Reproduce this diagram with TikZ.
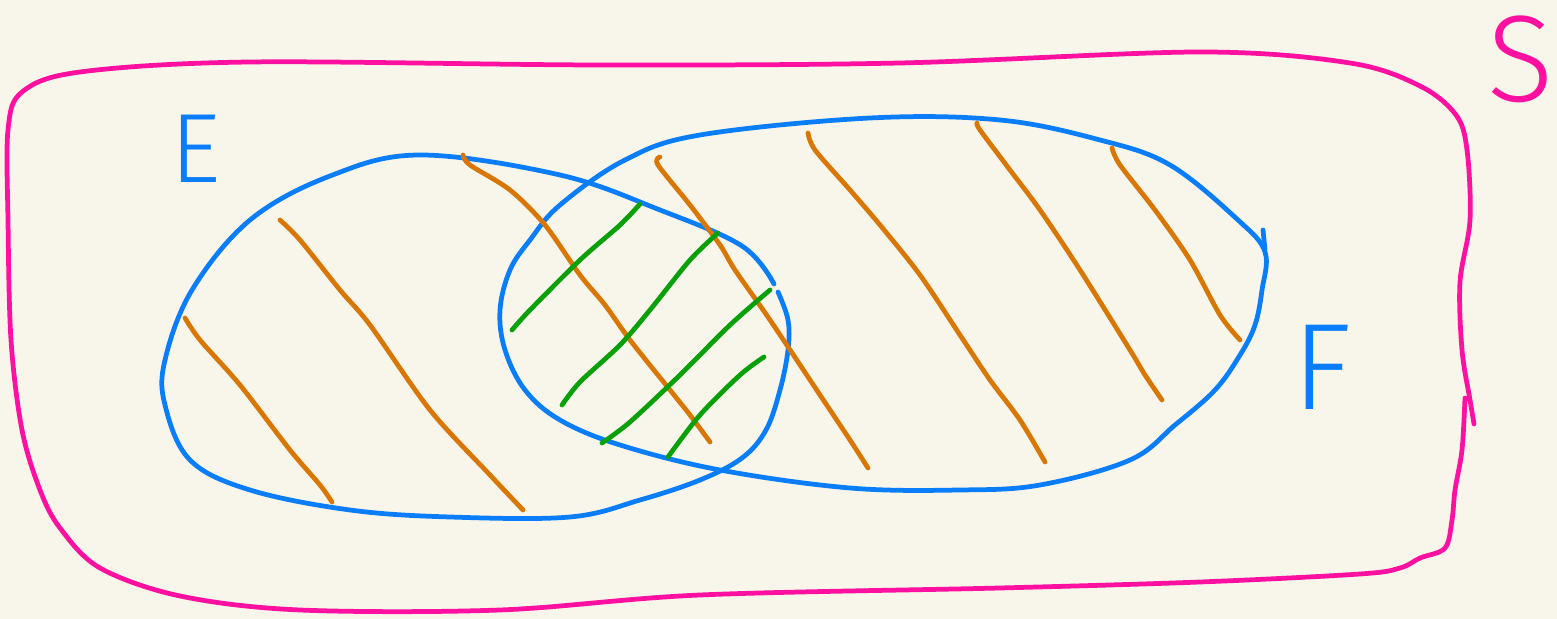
\documentclass[tikz,border=0pt]{standalone}
\usepackage{fontspec}
\newfontfamily\handfont{Fira Sans Light}
\definecolor{bg}{HTML}{F8F6EA}
\definecolor{pinkS}{HTML}{FF10A0}
\definecolor{blueE}{HTML}{0A7DFA}
\definecolor{orangeH}{HTML}{D97706}
\definecolor{greenH}{HTML}{0AA00A}
\tikzset{
  stroke/.style={line width=1.35pt, line cap=round, line join=round},
  setS/.style={stroke, draw=pinkS},
  setB/.style={stroke, draw=blueE},
  hatchO/.style={stroke, draw=orangeH},
  hatchG/.style={stroke, draw=greenH},
  letter/.style={inner sep=0pt, anchor=base, font=\handfont}
}
\begin{document}
\begin{tikzpicture}[x=0.01cm, y=-0.01cm]
\useasboundingbox (0,0) rectangle (1557,619);
\fill[bg] (0,0) rectangle (1557,619);
% outer set S
\draw[setS] plot[smooth, tension=0.55] coordinates {
 (1465,398) (1462,450) (1455,490) (1452,520) (1445,548) (1420,558) (1400,568) (1360,574)
 (1200,582) (1000,588) (700,595) (500,610) (300,610) (180,596) (100,568) (60,528) (40,490)
 (22,430) (11,340) (8,220) (8,130) (22,92) (80,72) (250,62) (600,65) (900,63) (1200,52)
 (1350,63) (1420,86) (1456,115) (1467,150) (1470,220) (1460,282) (1462,350) (1470,400) (1474,424)};
% set E
\draw[setB] plot[smooth, tension=0.6] coordinates {
 (774,284) (742,246) (660,210) (560,175) (420,155) (330,176) (250,220) (192,290) (165,360)
 (165,405) (190,460) (250,490) (350,510) (450,517) (570,517) (640,500) (700,480) (742,458)
 (766,430) (780,390) (788,350) (788,320) (778,292)};
% set F
\draw[setB] plot[smooth cycle, tension=0.6] coordinates {
 (560,205) (625,160) (700,135) (870,118) (1000,120) (1100,140) (1170,165) (1238,220)
 (1265,252) (1262,290) (1255,325) (1240,355) (1215,390) (1175,425) (1130,460) (1040,485)
 (960,490) (850,488) (720,470) (620,445) (560,420) (525,390) (505,350) (500,310) (510,270) (530,240)};
\draw[setB] (1263,230) -- (1265,250);
% orange hatching
\draw[hatchO] plot[smooth, tension=0.5] coordinates {(185,318) (200,340) (240,385) (290,450) (320,485) (332,502)};
\draw[hatchO] plot[smooth, tension=0.5] coordinates {(280,220) (300,240) (340,290) (370,325) (430,410) (490,475) (523,510)};
\draw[hatchO] plot[smooth, tension=0.5] coordinates {(463,155) (470,165) (510,190) (545,225) (580,275) (605,305) (630,340) (670,390) (690,415) (710,442)};
\draw[hatchO] plot[smooth, tension=0.5] coordinates {(660,157) (658,165) (690,205) (720,245) (735,270) (770,320) (820,395) (850,440) (868,468)};
\draw[hatchO] plot[smooth, tension=0.5] coordinates {(808,133) (815,150) (850,190) (880,225) (920,275) (960,335) (990,380) (1020,420) (1045,462)};
\draw[hatchO] plot[smooth, tension=0.5] coordinates {(977,123) (980,130) (1010,170) (1040,210) (1080,270) (1130,350) (1145,375) (1162,400)};
\draw[hatchO] plot[smooth, tension=0.5] coordinates {(1112,148) (1120,165) (1155,210) (1190,260) (1220,315) (1240,340)};
% green hatching
\draw[hatchG] plot[smooth, tension=0.5] coordinates {(512,330) (530,310) (580,260) (620,225) (640,204)};
\draw[hatchG] plot[smooth, tension=0.5] coordinates {(562,405) (580,382) (620,345) (650,310) (690,260) (718,233)};
\draw[hatchG] plot[smooth, tension=0.5] coordinates {(602,443) (630,422) (680,375) (730,325) (770,290)};
\draw[hatchG] plot[smooth, tension=0.5] coordinates {(668,457) (700,415) (740,375) (764,357)};
% labels
\node[letter, text=blueE, font=\handfont\fontsize{28}{28}\selectfont] (labE) at (196,183) {E};
\node[letter, text=blueE, font=\handfont\fontsize{35}{35}\selectfont] (labF) at (1322,410) {F};
\node[letter, text=pinkS, font=\handfont\fontsize{35}{35}\selectfont] (labS) at (1521,102) {S};
\end{tikzpicture}
\end{document}
